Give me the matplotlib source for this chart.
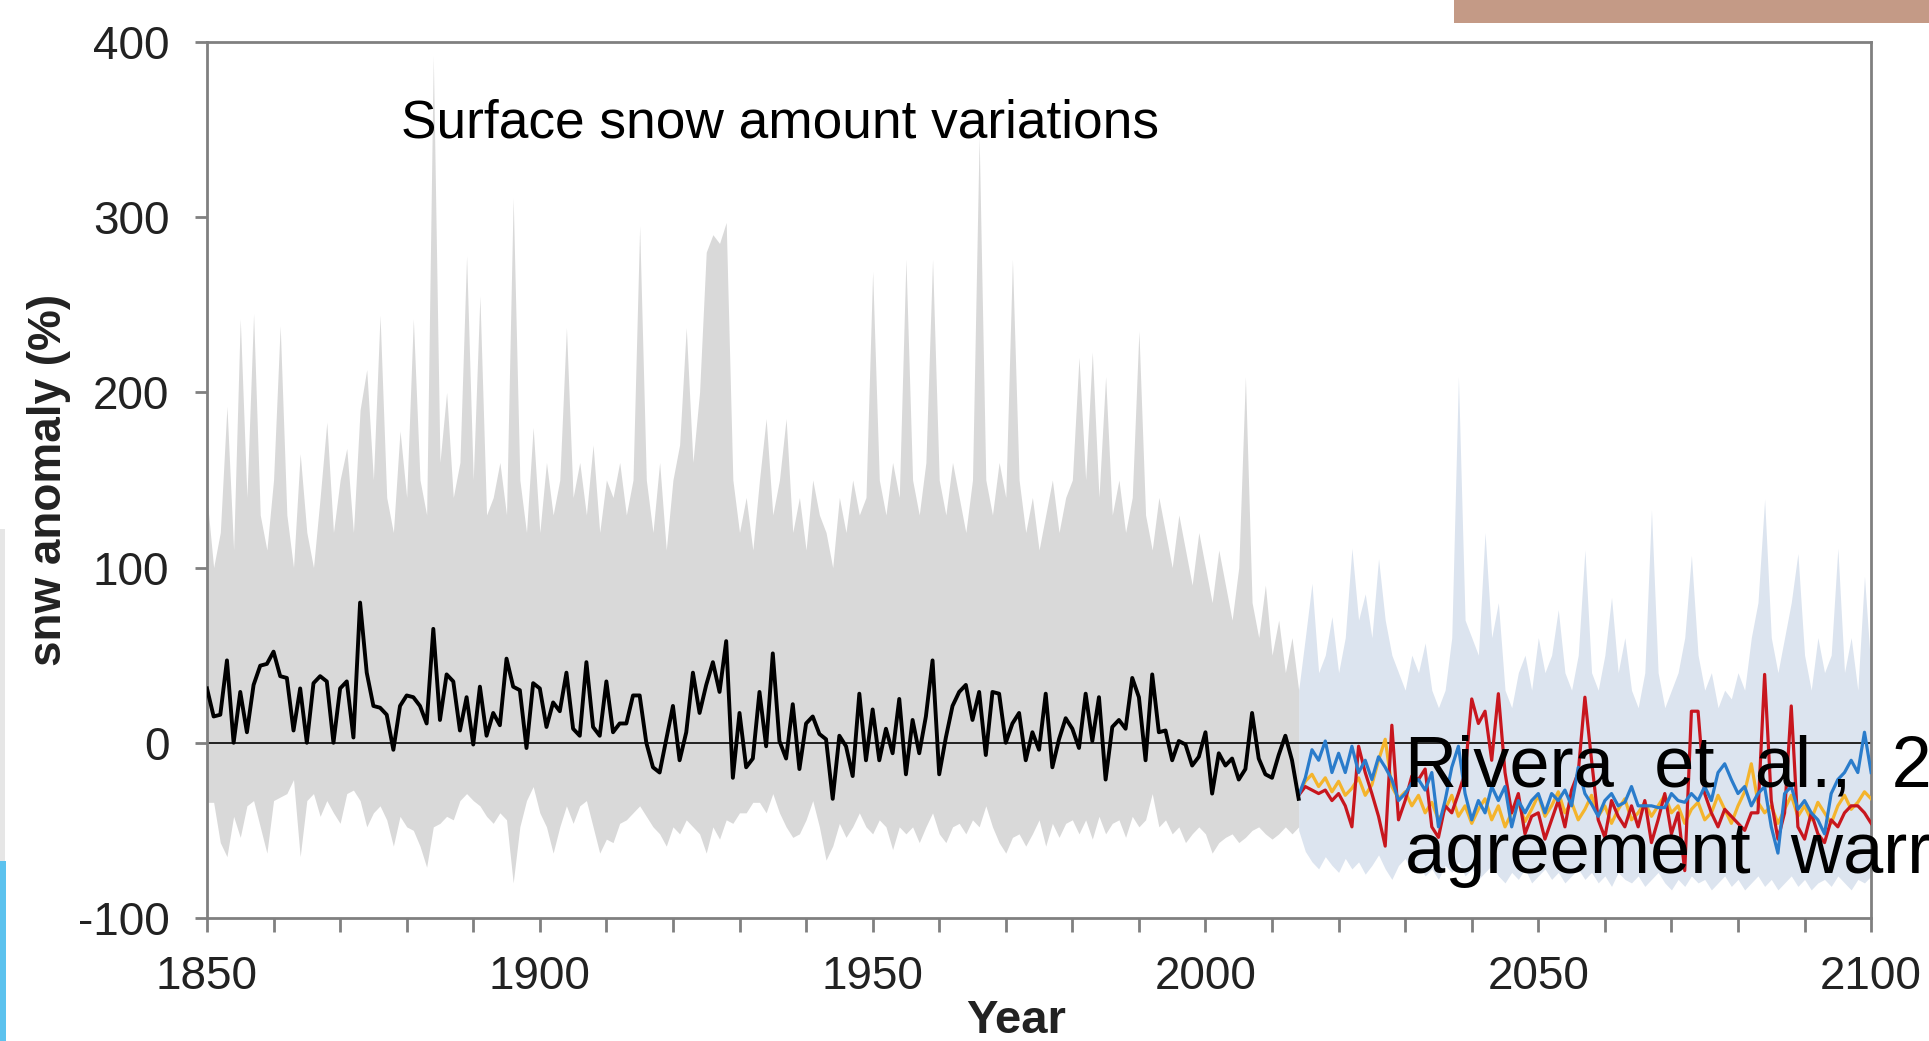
import numpy as np
import matplotlib
matplotlib.use("Agg")
import matplotlib.pyplot as plt
from matplotlib.patches import Rectangle

plt.rcParams['font.family'] = ['Liberation Sans', 'DejaVu Sans']
plt.rcParams['axes.unicode_minus'] = False

# historical period 1850-2014
hist_years = np.arange(1850, 2015)
hist_mean = [
    31, 15, 16, 47, 0, 29, 6, 33, 44, 45,
    52, 38, 37, 7, 31, 0, 34, 38, 35, 0,
    31, 35, 3, 80, 40, 21, 20, 16, -4, 21,
    27, 26, 21, 11, 65, 13, 39, 35, 7, 26,
    -1, 32, 4, 17, 10, 48, 32, 30, -3, 34,
    31, 9, 23, 18, 40, 8, 4, 46, 9, 4,
    35, 6, 11, 11, 27, 27, 0, -14, -17, 2,
    21, -10, 6, 40, 17, 33, 46, 29, 58, -20,
    17, -14, -9, 29, -2, 51, 1, -9, 22, -15,
    11, 15, 5, 2, -32, 4, -2, -19, 28, -10,
    19, -10, 8, -6, 25, -18, 13, -6, 15, 47,
    -18, 3, 21, 29, 33, 13, 29, -7, 29, 28,
    0, 11, 17, -10, 6, -4, 28, -14, 2, 14,
    8, -3, 28, 1, 26, -21, 9, 13, 8, 37,
    26, -10, 39, 6, 7, -10, 1, -1, -13, -8,
    6, -29, -6, -13, -9, -21, -15, 17, -9, -18,
    -20, -7, 4, -10, -32,
]
hist_upper = [
    140, 100, 120, 192, 110, 242, 140, 245, 130, 110,
    150, 238, 130, 100, 165, 120, 100, 140, 183, 120,
    150, 168, 120, 190, 213, 150, 244, 140, 120, 178,
    140, 242, 150, 130, 392, 160, 200, 140, 160, 278,
    150, 255, 130, 140, 160, 130, 311, 150, 120, 180,
    120, 160, 130, 150, 237, 140, 160, 130, 170, 120,
    150, 140, 160, 130, 150, 295, 150, 120, 160, 110,
    150, 170, 237, 160, 200, 280, 290, 285, 297, 150,
    120, 140, 110, 150, 185, 130, 150, 185, 120, 140,
    110, 150, 130, 120, 100, 140, 120, 150, 130, 140,
    269, 150, 130, 160, 140, 276, 150, 130, 160, 276,
    150, 130, 160, 140, 120, 150, 346, 150, 130, 160,
    140, 276, 150, 120, 140, 110, 130, 150, 120, 140,
    150, 220, 150, 223, 140, 209, 130, 150, 120, 140,
    235, 130, 110, 140, 120, 100, 130, 110, 90, 120,
    100, 80, 110, 90, 70, 100, 209, 80, 60, 90,
    50, 70, 40, 60, 30,
]
hist_lower = [
    -34, -34, -57, -65, -42, -54, -36, -33, -48, -63,
    -33, -31, -29, -21, -65, -33, -29, -42, -33, -40,
    -46, -29, -27, -33, -48, -40, -36, -44, -59, -42,
    -48, -50, -59, -71, -48, -46, -42, -44, -33, -29,
    -33, -36, -42, -46, -40, -44, -80, -48, -33, -25,
    -40, -48, -63, -48, -36, -46, -36, -33, -48, -63,
    -55, -57, -46, -44, -40, -36, -42, -48, -52, -59,
    -48, -52, -44, -48, -52, -63, -48, -55, -44, -46,
    -40, -40, -34, -34, -40, -29, -40, -48, -54, -52,
    -44, -33, -48, -67, -59, -46, -54, -48, -40, -48,
    -52, -44, -48, -61, -48, -52, -48, -57, -48, -40,
    -52, -57, -48, -46, -52, -44, -48, -36, -48, -57,
    -63, -54, -52, -59, -52, -44, -59, -46, -54, -46,
    -44, -52, -44, -55, -42, -52, -46, -44, -54, -42,
    -48, -44, -29, -48, -44, -52, -48, -57, -52, -48,
    -52, -63, -57, -54, -52, -57, -54, -50, -48, -52,
    -55, -52, -48, -52, -48,
]

# scenario period 2014-2100
scen_years = np.arange(2014, 2101)
scen_red = [
    -30, -25, -27, -29, -27, -33, -29, -36, -48, -2,
    -17, -29, -42, -59, 10, -44, -33, -19, -21, -15,
    -48, -54, -36, -40, -29, -17, 25, 11, 18, -10,
    28, -17, -40, -29, -52, -42, -40, -55, -44, -33,
    -48, -27, -17, 26, -10, -44, -54, -33, -42, -48,
    -36, -48, -33, -57, -44, -29, -52, -40, -73, 18,
    18, -29, -40, -48, -38, -42, -46, -50, -40, -40,
    39, -33, -55, -40, 21, -48, -55, -40, -52, -57,
    -44, -48, -40, -36, -36, -40, -46,
]
scen_blue = [
    -30, -20, -4, -10, 1, -17, -6, -17, -2, -17,
    -10, -21, -8, -14, -21, -33, -29, -23, -21, -27,
    -17, -48, -33, -14, -2, -29, -44, -33, -40, -25,
    -33, -25, -48, -33, -40, -33, -29, -40, -29, -33,
    -27, -36, -14, -29, -35, -42, -33, -29, -36, -34,
    -25, -36, -36, -36, -37, -37, -29, -33, -34, -29,
    -33, -25, -33, -17, -12, -21, -29, -25, -36, -29,
    -25, -48, -63, -29, -25, -38, -33, -40, -44, -52,
    -29, -21, -17, -10, -17, 6, -17,
]
scen_orange = [
    -30, -22, -18, -25, -20, -28, -22, -30, -26, -20,
    -30, -24, -10, 2, -25, -32, -28, -36, -30, -40,
    -34, -44, -38, -30, -42, -36, -46, -38, -32, -44,
    -36, -48, -40, -34, -45, -38, -30, -42, -36, -28,
    -40, -34, -44, -38, -30, -42, -36, -46, -38, -32,
    -44, -40, -34, -42, -36, -30, -40, -36, -46, -38,
    -34, -44, -40, -30, -38, -46, -36, -28, -12, -34,
    -40, -36, -46, -38, -30, -42, -36, -44, -34, -40,
    -46, -36, -30, -38, -34, -28, -32,
]
scen_upper = [
    30, 60, 91, 40, 50, 72, 40, 60, 111, 70,
    85, 60, 105, 70, 50, 40, 30, 50, 40, 57,
    30, 20, 30, 60, 209, 70, 60, 50, 120, 60,
    80, 30, 20, 40, 50, 30, 60, 40, 50, 76,
    40, 30, 50, 110, 40, 30, 50, 83, 40, 60,
    30, 20, 40, 133, 40, 20, 30, 40, 60, 107,
    50, 30, 40, 20, 30, 25, 40, 30, 60, 80,
    139, 60, 40, 60, 80, 108, 50, 30, 60, 40,
    50, 111, 40, 60, 30, 95, 40,
]
scen_lower = [
    -50, -62, -68, -72, -65, -70, -74, -66, -72, -68,
    -75, -70, -64, -72, -78, -70, -66, -74, -70, -76,
    -72, -78, -70, -74, -68, -76, -72, -78, -74, -70,
    -76, -80, -74, -78, -72, -80, -76, -72, -78, -74,
    -80, -76, -72, -78, -74, -80, -76, -82, -74, -78,
    -80, -76, -82, -78, -74, -80, -84, -78, -82, -76,
    -80, -78, -84, -80, -76, -82, -78, -84, -80, -76,
    -82, -78, -84, -80, -76, -82, -78, -84, -80, -78,
    -82, -76, -80, -84, -78, -80, -76,
]

x_ticks = [1850, 1900, 1950, 2000, 2050, 2100]
y_ticks = [-100, 0, 100, 200, 300, 400]

fig = plt.figure(figsize=(19.29, 10.41), dpi=100)
ax = fig.add_axes([0.1073, 0.1182, 0.8627, 0.8415])

# ensemble spread
ax.fill_between(scen_years, scen_lower, scen_upper, color='#dce4ef', lw=0)
ax.fill_between(hist_years, hist_lower, hist_upper, color='#d9d9d9', lw=0)

ax.axhline(0, color='#222222', lw=1.4, zorder=2)

ax.plot(hist_years, hist_mean, color='black', lw=2.8, zorder=4)
ax.plot(scen_years, scen_orange, color='#f4b42c', lw=2.3, zorder=3)
ax.plot(scen_years, scen_red, color='#c8161e', lw=2.3, zorder=3)
ax.plot(scen_years, scen_blue, color='#2a7ccb', lw=2.3, zorder=3)

ax.set_xlim(1850, 2100)
ax.set_ylim(-100, 400)
ax.set_xticks(x_ticks)
ax.set_xticks(np.arange(1850, 2101, 10), minor=True)
ax.set_yticks(y_ticks)
ax.set_yticklabels([str(v) for v in y_ticks])
ax.tick_params(axis='both', which='both', direction='out', color='#808080',
               width=2, labelsize=33, labelcolor='#222222')
ax.tick_params(axis='x', which='both', length=10, pad=17)
ax.tick_params(axis='y', which='both', length=9, pad=18)
for sp in ax.spines.values():
    sp.set_color('#808080')
    sp.set_linewidth(2)

ax.set_xlabel('Year', fontsize=34, fontweight='bold', color='#222222')
ax.xaxis.set_label_coords(0.486, -0.092)
ax.set_ylabel('snw anomaly (%)', fontsize=33, fontweight='bold', color='#222222')
ax.yaxis.set_label_coords(-0.082, 0.5)

fig.text(401 / 1929, 1 - 138 / 1041, 'Surface snow amount variations',
         fontsize=38.3, color='black', va='baseline', ha='left')
fig.text(1405 / 1929, 1 - 786 / 1041, 'Rivera  et  al.,  2',
         fontsize=52, color='black', va='baseline', ha='left', zorder=10)
fig.text(1405 / 1929, 1 - 873 / 1041, 'agreement  warr',
         fontsize=52, color='black', va='baseline', ha='left', zorder=10)

# slide decorations around the chart
fig.patches.append(Rectangle((1454 / 1929, 1 - 23 / 1041), 1 - 1454 / 1929, 23 / 1041,
                             transform=fig.transFigure, color='#c49a86', lw=0))
fig.patches.append(Rectangle((0, 1 - 861 / 1041), 5 / 1929, 332 / 1041,
                             transform=fig.transFigure, color='#e6e6e6', lw=0))
fig.patches.append(Rectangle((0, 0), 6 / 1929, 1 - 861 / 1041,
                             transform=fig.transFigure, color='#5cc2ee', lw=0))

fig.savefig('out.png', dpi=100)
plt.close(fig)
